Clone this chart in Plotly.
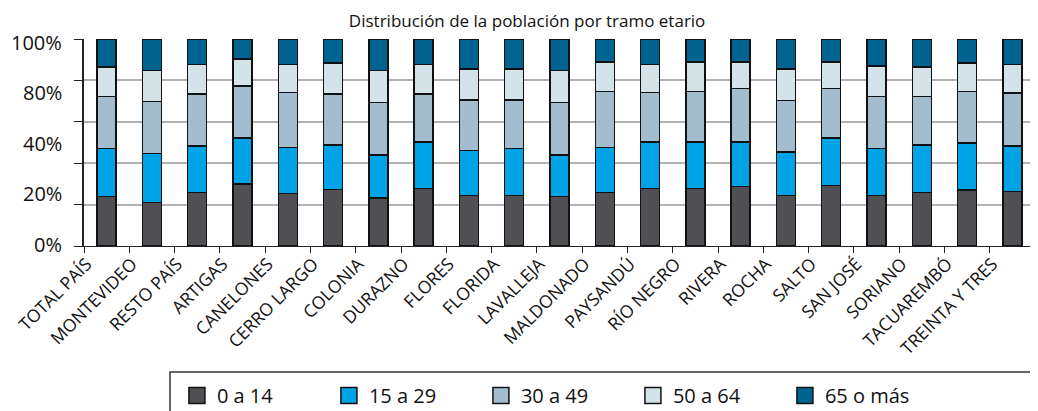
import plotly.graph_objects as go

categories = ["TOTAL PAÍS", "MONTEVIDEO", "RESTO PAÍS", "ARTIGAS", "CANELONES", "CERRO LARGO",
              "COLONIA", "DURAZNO", "FLORES", "FLORIDA", "LAVALLEJA", "MALDONADO", "PAYSANDÚ",
              "RÍO NEGRO", "RIVERA", "ROCHA", "SALTO", "SAN JOSÉ", "SORIANO", "TACUAREMBÓ",
              "TREINTA Y TRES"]

age_0_14 = [23.9, 21.0, 25.8, 30.0, 25.3, 27.4, 23.1, 27.9, 24.4, 24.4, 23.9, 25.8, 27.9,
            27.9, 28.7, 24.4, 29.2, 24.4, 25.8, 27.1, 26.3]
age_15_29 = [23.2, 23.8, 22.4, 22.1, 22.3, 21.5, 20.9, 22.3, 21.7, 22.7, 20.1, 21.8, 22.3,
             22.3, 21.5, 20.9, 22.9, 22.7, 23.1, 22.6, 22.1]
age_30_49 = [25.2, 25.0, 25.3, 25.3, 26.6, 24.6, 25.4, 23.3, 24.5, 23.5, 25.4, 27.1, 24.0,
             24.5, 25.8, 24.9, 23.9, 25.2, 23.4, 25.0, 25.5]
age_50_64 = [14.2, 15.0, 14.2, 12.9, 13.5, 14.9, 15.4, 14.2, 15.0, 15.0, 15.4, 14.3, 13.5,
             14.3, 13.0, 15.4, 13.0, 14.6, 14.2, 13.7, 13.8]
age_65 = [13.5, 15.2, 12.3, 9.7, 12.3, 11.6, 15.2, 12.3, 14.4, 14.4, 15.2, 11.0, 12.3,
          11.0, 11.0, 14.4, 11.0, 13.1, 13.5, 11.6, 12.3]

series_names = ["0 a 14", "15 a 29", "30 a 49", "50 a 64", "65 o más"]
series_values = [age_0_14, age_15_29, age_30_49, age_50_64, age_65]
colors = ["#4f4f54", "#00a4e6", "#a3bdce", "#d4e2ea", "#006390"]

y_labels = ["100%", "80%", "40%", "20%", "0%"]
y_label_pos = [98.4, 74.0, 49.7, 25.5, 0.5]

FONT = "Open Sans"

fig = go.Figure()
for name, vals, col in zip(series_names, series_values, colors):
    fig.add_trace(go.Bar(
        x=categories, y=vals, name=name, width=0.42, showlegend=False,
        marker=dict(color=col, line=dict(color="#111111", width=1.5)),
    ))
# legend entries (larger square swatches)
for name, col in zip(series_names, colors):
    fig.add_trace(go.Scatter(
        x=[None], y=[None], name=name, mode="markers",
        marker=dict(symbol="square", size=16, color=col, line=dict(color="#111111", width=1.5)),
    ))

fig.update_layout(
    barmode="stack",
    width=1030, height=403,
    margin=dict(l=76, r=3, t=31, b=165, autoexpand=False),
    paper_bgcolor="white", plot_bgcolor="white",
    font=dict(family=FONT, color="#111111"),
    title=dict(text="Distribución de la población por tramo etario",
               x=0.504, xanchor="center", y=0.968, yanchor="middle",
               font=dict(size=17, family=FONT, color="#111111")),
    showlegend=True,
    legend=dict(orientation="h", xref="container", yref="container",
                x=0.164, xanchor="left", y=0.087, yanchor="top",
                font=dict(size=20, family=FONT, color="#111111"),
                entrywidth=107, entrywidthmode="pixels", itemsizing="trace",
                borderwidth=0, bgcolor="rgba(0,0,0,0)",
                traceorder="normal", itemclick=False),
)

fig.update_xaxes(
    tickangle=-45, tickson="boundaries", ticks="outside", ticklen=6,
    tickcolor="#222222", tickwidth=1,
    showline=True, linecolor="#222222", linewidth=1,
    tickfont=dict(size=17.5, family=FONT, color="#111111"),
    ticklabelshift=-20,
    showgrid=False,
)
fig.update_yaxes(
    range=[0, 100], tickvals=[0, 20, 40, 60, 80, 100], showticklabels=False,
    ticks="outside", ticklen=8, tickcolor="#222222",
    showline=True, linecolor="#222222", linewidth=1.5,
    showgrid=True, gridcolor="#b2b2b2", gridwidth=1.5,
    zeroline=False,
)

# darker 60% line
fig.add_hline(y=60, line=dict(color="#222222", width=1.5), layer="below")

for lab, pos in zip(y_labels, y_label_pos):
    fig.add_annotation(text=lab, xref="paper", yref="y", x=0, y=pos,
                       xanchor="right", yanchor="middle", xshift=-20, showarrow=False,
                       font=dict(size=20, family=FONT, color="#111111"))

# legend box
fig.add_shape(type="rect", xref="paper", yref="paper",
              x0=(170 - 84) / 951, x1=(1036 - 84) / 951,
              y0=(246 - 425) / 207, y1=(246 - 372) / 207,
              line=dict(color="#333333", width=1.5), fillcolor="rgba(0,0,0,0)")

fig.write_html("out.html")
